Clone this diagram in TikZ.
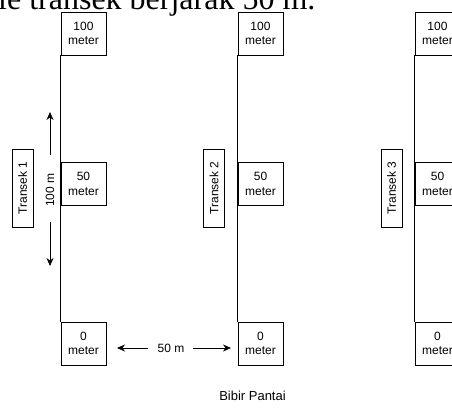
\documentclass[tikz,border=0pt]{standalone}
\usepackage{fontspec}
\setmainfont{Liberation Sans}
\newfontfamily\serifx{Liberation Serif}
\usetikzlibrary{arrows.meta}
\tikzset{
  mbox/.style={draw, line width=0.8pt, minimum width=45pt, minimum height=43pt, inner sep=0pt, align=center, font=\fontsize{12}{14.5}\selectfont},
  tbox/.style={draw, line width=0.8pt, minimum width=78pt, minimum height=21pt, inner sep=0pt, rotate=90, font=\fontsize{12}{14}\selectfont},
  lbl/.style={inner sep=0pt, font=\fontsize{12}{14}\selectfont},
  tline/.style={line width=0.8pt},
  arr/.style={line width=0.8pt, -{Stealth[length=8pt,width=7pt]}}
}
\begin{document}
\begin{tikzpicture}[x=1pt,y=-1pt]
\useasboundingbox (0,0) rectangle (452,407);
\clip (0,0) rectangle (452,407);
% heading fragment
\node[anchor=base west, inner sep=0pt, font=\serifx\fontsize{32}{36}\selectfont] (head) at (-2,9.5) {le transek berjarak 50 m.};
% transect 1
\node[mbox] (a3) at (83.5,33.5) {100\\meter};
\node[mbox] (a2) at (83.5,184) {50\\meter};
\node[mbox] (a1) at (83.5,343.5) {0\\meter};
\draw[tline] (a3.south west) -- (a1.north west);
\node[tbox] (t1) at (22.5,188) {Transek 1};
% transect 2
\node[mbox] (b3) at (260.5,33.5) {100\\meter};
\node[mbox] (b2) at (260.5,184) {50\\meter};
\node[mbox] (b1) at (260.5,343.5) {0\\meter};
\draw[tline] (b3.south west) -- (b1.north west);
\node[tbox] (t2) at (214,188) {Transek 2};
% transect 3
\node[mbox] (c3) at (437.5,33.5) {100\\meter};
\node[mbox] (c2) at (437.5,184) {50\\meter};
\node[mbox] (c1) at (437.5,343.5) {0\\meter};
\draw[tline] (c3.south west) -- (c1.north west);
\node[tbox] (t3) at (391.5,188) {Transek 3};
% 100 m dimension
\node[lbl, rotate=90] (len) at (50,190) {100 m};
\coordinate (upS) at (50,155);
\coordinate (upE) at (50,112);
\coordinate (dnS) at (50,222);
\coordinate (dnE) at (50,266);
\draw[arr] (upS) -- (upE);
\draw[arr] (dnS) -- (dnE);
% 50 m dimension
\node[lbl] (gap) at (171,348) {50 m};
\coordinate (lS) at (148,348);
\coordinate (lE) at (117,348);
\coordinate (rS) at (193,348);
\coordinate (rE) at (231,348);
\draw[arr] (lS) -- (lE);
\draw[arr] (rS) -- (rE);
% shore
\node[lbl, font=\fontsize{13}{15}\selectfont] (shore) at (252.5,396) {Bibir Pantai};
\end{tikzpicture}
\end{document}
